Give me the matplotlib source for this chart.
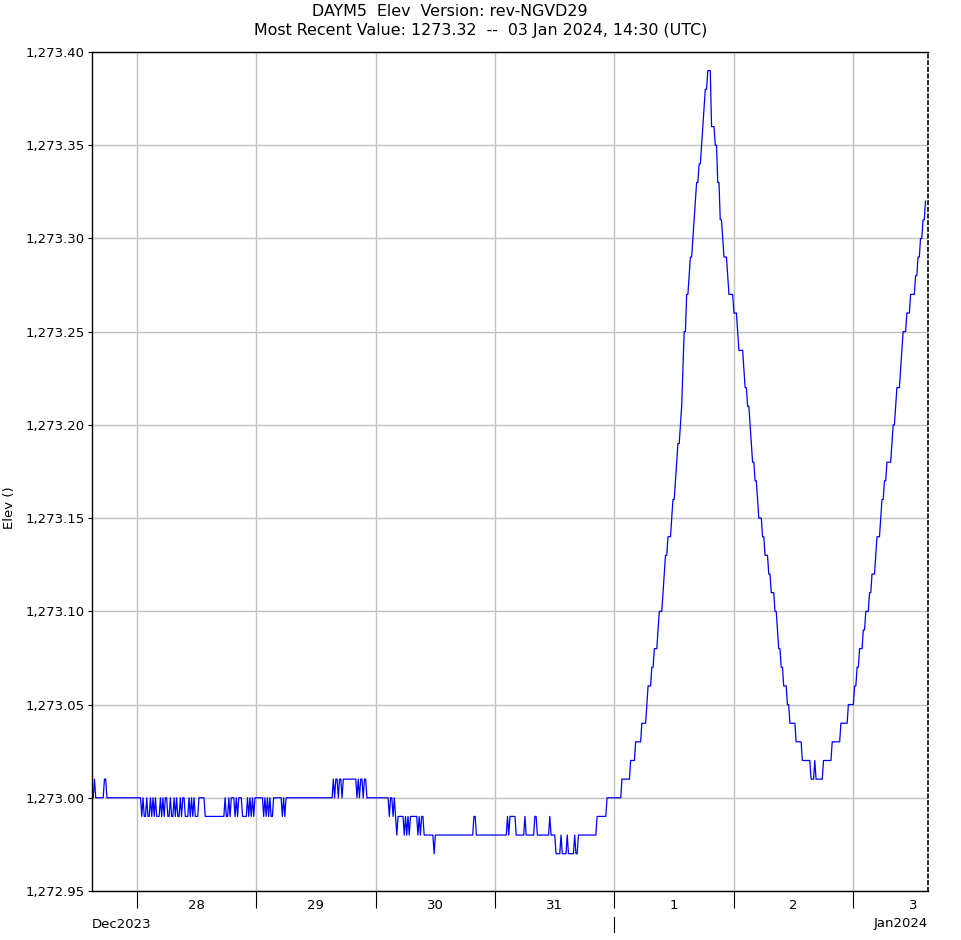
import numpy as np
import matplotlib
matplotlib.use("Agg")
import matplotlib.pyplot as plt
import matplotlib.transforms as mtransforms
from matplotlib.ticker import FuncFormatter
from datetime import datetime, timedelta

title_line1 = "DAYM5  Elev  Version: rev-NGVD29"
title_line2 = "Most Recent Value: 1273.32  --  03 Jan 2024, 14:30 (UTC)"
y_label = "Elev ()"

# 15-minute readings from 27 Dec 2023 15:00 UTC, run-length encoded as
# (level in hundredths above 1273.00, number of readings at that level)
runs_flat = [(0, 2), (1, 1), (0, 7), (1, 2), (0, 28),
             (-1, 1), (0, 1), (-1, 2), (0, 1), (-1, 2), (0, 1), (-1, 1), (0, 1),
             (-1, 1), (0, 1), (-1, 3), (0, 1), (-1, 1), (0, 1), (-1, 1), (0, 2),
             (-1, 2), (0, 1), (-1, 2), (0, 1), (-1, 1), (0, 1), (-1, 2), (0, 1),
             (-1, 1), (0, 2), (-1, 3), (0, 1), (-1, 1), (0, 1), (-1, 1), (0, 1),
             (-1, 3), (0, 5), (-1, 16),
             (0, 1), (-1, 2), (0, 1), (-1, 1), (0, 3), (-1, 1), (0, 1), (-1, 1),
             (0, 3), (-1, 4), (0, 1), (-1, 1), (0, 1), (-1, 1), (0, 1), (-1, 1),
             (0, 7), (-1, 1), (0, 1), (-1, 1), (0, 1), (-1, 1), (0, 1), (-1, 2),
             (0, 7), (-1, 1), (0, 1), (-1, 1), (0, 38),
             (1, 1), (0, 1), (1, 2), (0, 1), (1, 2), (0, 1), (1, 11), (0, 1),
             (1, 1), (0, 1), (1, 2), (0, 1), (1, 2), (0, 18),
             (-1, 1), (0, 2), (-1, 1), (0, 1), (-1, 1), (-2, 1), (-1, 5)]
runs_low = [(-2, 1), (-1, 1), (-2, 1), (-1, 1), (-2, 1), (-1, 6), (-2, 1),
            (-1, 1), (-2, 1), (-1, 2), (-2, 8), (-3, 1), (-2, 31), (-1, 2),
            (-2, 25), (-1, 1), (-2, 1), (-1, 5), (-2, 7), (-1, 1), (-2, 7),
            (-1, 2), (-2, 10), (-1, 1), (-2, 4), (-3, 4), (-2, 1), (-3, 4),
            (-2, 1), (-3, 5), (-2, 1), (-3, 2), (-2, 15), (-1, 8)]
runs_rise = [(0, 12), (1, 7), (2, 4), (3, 5), (4, 4), (5, 1), (6, 3), (7, 2),
             (8, 3), (9, 1), (10, 3), (11, 1), (12, 1), (13, 2), (14, 3), (15, 1),
             (16, 2), (17, 1), (18, 1), (19, 2), (20, 1), (21, 1), (23, 1),
             (25, 2), (27, 2), (28, 1), (29, 2), (30, 1), (31, 1), (32, 1),
             (33, 2), (34, 2), (35, 1), (36, 1), (37, 1), (38, 2), (39, 3)]
runs_fall = [(36, 3), (35, 2), (33, 2), (31, 2), (30, 1), (29, 3), (28, 1),
             (27, 4), (26, 3), (25, 1), (24, 4), (23, 1), (22, 2), (21, 2),
             (20, 1), (19, 1), (18, 2), (17, 2), (16, 1), (15, 3), (14, 2),
             (13, 3), (12, 2), (11, 3), (10, 2), (9, 1), (8, 2), (7, 2), (6, 3),
             (5, 2), (4, 5), (3, 5), (2, 7), (1, 3), (2, 1), (1, 6)]
runs_rise2 = [(2, 7), (3, 7), (4, 6), (5, 5), (6, 2), (7, 2), (8, 3), (9, 2),
              (10, 3), (11, 2), (12, 3), (13, 1), (14, 3), (15, 1), (16, 2),
              (17, 2), (18, 4), (19, 1), (20, 2), (21, 1), (22, 3), (23, 1),
              (24, 1), (25, 3), (26, 3), (27, 4), (28, 2), (29, 2), (30, 2),
              (31, 2), (32, 1)]

base_elev = 1273.00
start = datetime(2023, 12, 27, 15, 0)
end = datetime(2024, 1, 3, 15, 0)
day_starts = [datetime(2023, 12, d) for d in (28, 29, 30, 31)] + \
             [datetime(2024, 1, d) for d in (1, 2, 3)]
day_labels = ["28", "29", "30", "31", "1", "2", "3"]
month_change = datetime(2024, 1, 1)

runs = runs_flat + runs_low + runs_rise + runs_fall + runs_rise2
levels = [r[0] for r in runs]
counts = [r[1] for r in runs]
elev = base_elev + np.repeat(levels, counts) / 100.0
times = [start + timedelta(minutes=15 * k) for k in range(len(elev))]

plt.rcParams["font.family"] = "DejaVu Sans"
fs = 9.5

fig = plt.figure(figsize=(9.61, 9.40), dpi=100)
ax = fig.add_axes([92 / 961, 1 - 891 / 940, 836 / 961, 839 / 940])

ax.plot(times, elev, color="#0000ff", lw=0.9)

ax.set_xlim(start, end)
ax.set_ylim(1272.95, 1273.40)
ax.set_yticks(np.arange(1272.95, 1273.401, 0.05))
ax.yaxis.set_major_formatter(FuncFormatter(lambda v, p: f"{v:,.2f}"))

ax.set_xticks(day_starts)
ax.set_xticklabels([])
ax.set_xticks([d + timedelta(hours=12) for d in day_starts], minor=True)
ax.set_xticklabels(day_labels, minor=True)
ax.tick_params(axis="x", which="major", length=12.5, width=0.8, direction="out", color="black")
ax.tick_params(axis="x", which="minor", length=0, pad=6, labelsize=fs)
ax.tick_params(axis="y", length=3, width=0.8, direction="out", pad=2, labelsize=fs)

ax.grid(True, which="major", color="#c0c0c0", lw=1.0)
ax.set_axisbelow(True)

for side in ("left", "bottom", "top"):
    ax.spines[side].set_linewidth(1.0)
ax.spines["right"].set_linewidth(1.2)
ax.spines["right"].set_linestyle((0, (2, 2)))

# month boundary marker below the day labels
trans = mtransforms.blended_transform_factory(ax.transData, ax.transAxes)
ax.plot([month_change, month_change], [-0.031, -0.049], color="black", lw=0.8,
        transform=trans, clip_on=False)

fig.text(92 / 961, 1 - 924 / 940, "Dec2023", ha="left", va="center", fontsize=fs)
fig.text(928 / 961, 1 - 924 / 940, "Jan2024", ha="right", va="center", fontsize=fs)
fig.text(10 / 961, 1 - 508 / 940, y_label, rotation=90, ha="center", va="center", fontsize=fs)
fig.text(449.5 / 961, 1 - 12 / 940, title_line1, ha="center", va="center", fontsize=11.4)
fig.text(480.5 / 961, 1 - 31 / 940, title_line2, ha="center", va="center", fontsize=11.4)

fig.savefig("out.png", dpi=100)
